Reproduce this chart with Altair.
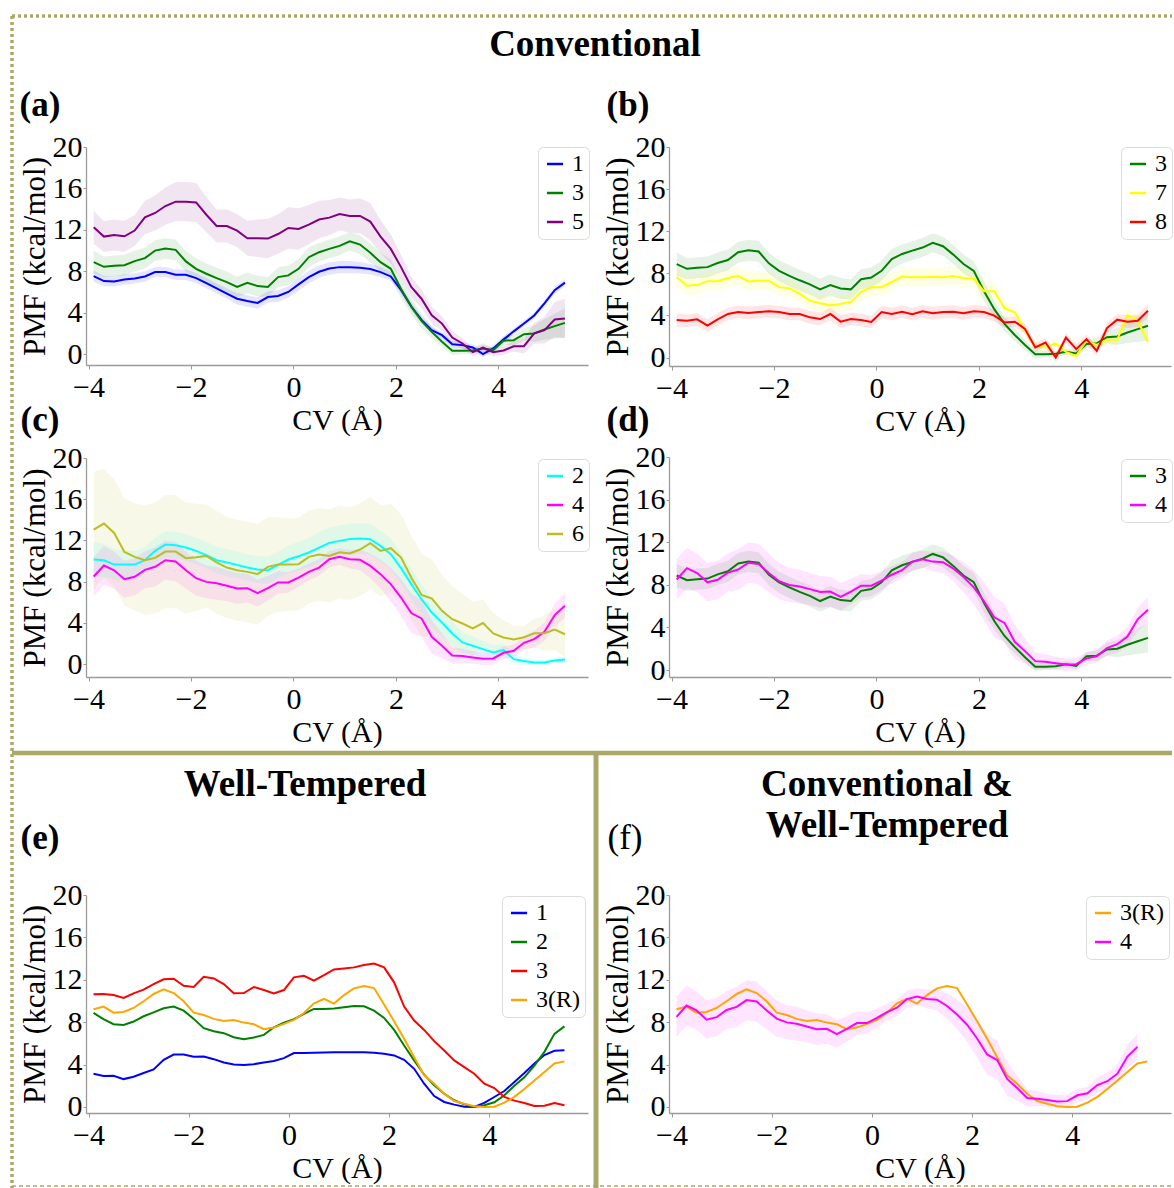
import altair as alt
import pandas as pd

FONT = "Liberation Serif"
FRAME = "#aaa768"
AXIS_GREY = "#9a9a9a"
W, H = 1174, 1188

# collective-variable grids (Å)
CV_CONV = [-3.9, -3.7, -3.5, -3.3, -3.1, -2.9, -2.7, -2.5, -2.3, -2.1,
           -1.9, -1.7, -1.5, -1.3, -1.1, -0.9, -0.7, -0.5, -0.3, -0.1,
           0.1, 0.3, 0.5, 0.7, 0.9, 1.1, 1.3, 1.5, 1.7, 1.9,
           2.1, 2.3, 2.5, 2.7, 2.9, 3.1, 3.3, 3.5, 3.7, 3.9,
           4.1, 4.3, 4.5, 4.7, 4.9, 5.1, 5.3]
CV_WT = CV_CONV + [5.5]

# conventional metadynamics PMFs (kcal/mol) and their uncertainty half-widths
PMF_C1 = [7.53, 7.05, 7.02, 7.21, 7.31, 7.5, 7.92, 7.92, 7.66, 7.66,
          7.34, 6.86, 6.35, 5.84, 5.35, 5.13, 4.94, 5.51, 5.61, 6.0,
          6.73, 7.44, 7.95, 8.27, 8.4, 8.4, 8.34, 8.21, 7.92, 7.5,
          6.2, 4.6, 3.3, 2.31, 1.83, 0.96, 0.87, 0.64, 0.0, 0.55,
          1.4, 2.2, 2.96, 3.73, 4.9, 6.17, 6.9]
ERR_C1 = [0.55, 0.5, 0.5, 0.5, 0.5, 0.5, 0.5, 0.5, 0.5, 0.5,
          0.5, 0.5, 0.5, 0.5, 0.55, 0.55, 0.55, 0.55, 0.55, 0.55,
          0.6, 0.6, 0.6, 0.6, 0.6, 0.6, 0.55, 0.5, 0.5, 0.45,
          0.4, 0.4, 0.35, 0.35, 0.3, 0.3, 0.3, 0.3, 0.3, 0.3,
          0.3, 0.3, 0.3, 0.3, 0.3, 0.35, 0.35]

PMF_C2 = [10.15, 10.08, 9.66, 9.66, 9.66, 10.08, 10.99, 11.6, 11.54, 11.31,
          10.99, 10.57, 10.08, 9.86, 9.63, 9.37, 9.18, 9.11, 9.63, 10.15,
          10.47, 10.83, 11.31, 11.76, 11.96, 12.15, 12.18, 12.12, 11.47, 10.67,
          9.31, 7.76, 6.3, 5.0, 4.04, 2.97, 2.1, 1.78, 1.45, 1.13,
          1.36, 0.48, 0.3, 0.15, 0.15, 0.35, 0.45]
ERR_C2 = [1.7, 1.6, 1.5, 1.4, 1.3, 1.3, 1.3, 1.3, 1.3, 1.3,
          1.3, 1.3, 1.3, 1.3, 1.3, 1.3, 1.3, 1.3, 1.3, 1.35,
          1.4, 1.4, 1.5, 1.5, 1.5, 1.5, 1.5, 1.5, 1.5, 1.5,
          1.5, 1.5, 1.5, 1.4, 1.3, 1.2, 1.0, 0.9, 0.8, 0.7,
          0.6, 0.5, 0.4, 0.3, 0.3, 0.3, 0.3]

PMF_C3 = [8.88, 8.43, 8.53, 8.59, 8.98, 9.27, 10.0, 10.2, 10.07, 8.95,
          8.24, 7.76, 7.34, 6.96, 6.48, 6.89, 6.57, 6.48, 7.44, 7.6,
          8.24, 9.36, 9.84, 10.16, 10.45, 10.9, 10.58, 9.78, 8.88, 8.24,
          6.3, 4.6, 3.2, 2.15, 1.2, 0.32, 0.32, 0.36, 0.55, 0.39,
          1.29, 1.35, 1.93, 2.0, 2.38, 2.7, 3.02]
ERR_C3 = [1.1, 1.0, 1.0, 1.0, 1.0, 1.0, 1.0, 1.0, 1.0, 1.0,
          1.0, 1.0, 1.0, 1.0, 1.0, 1.0, 1.0, 0.95, 0.95, 0.95,
          0.95, 0.95, 0.9, 0.9, 0.9, 0.9, 0.9, 0.9, 0.9, 0.9,
          0.9, 0.8, 0.7, 0.6, 0.5, 0.4, 0.3, 0.3, 0.3, 0.3,
          0.4, 0.5, 0.6, 0.8, 1.0, 1.2, 1.4]

PMF_C4 = [8.5, 9.57, 9.11, 8.24, 8.47, 9.15, 9.44, 10.08, 9.95, 9.11,
          8.34, 7.98, 7.85, 7.6, 7.34, 7.37, 6.88, 7.37, 7.92, 7.92,
          8.4, 8.95, 9.37, 10.18, 10.41, 10.18, 10.12, 9.53, 8.73, 7.76,
          6.46, 4.95, 4.43, 2.65, 1.78, 0.84, 0.78, 0.65, 0.52, 0.55,
          1.1, 1.29, 2.07, 2.43, 3.14, 4.76, 5.67]
ERR_C4 = [1.9, 1.9, 1.8, 1.8, 1.8, 1.8, 1.9, 1.9, 1.9, 1.8,
          1.7, 1.6, 1.6, 1.5, 1.5, 1.4, 1.3, 1.2, 1.1, 1.0,
          0.9, 0.8, 0.8, 0.8, 0.8, 0.9, 1.0, 1.2, 1.4, 1.6,
          1.8, 1.9, 1.8, 1.6, 1.2, 0.8, 0.7, 0.6, 0.6, 0.6,
          0.6, 0.6, 0.7, 0.8, 0.9, 1.1, 1.2]

PMF_C5 = [12.25, 11.35, 11.5, 11.38, 11.93, 13.2, 13.63, 14.3, 14.72, 14.72,
          14.65, 13.46, 12.37, 12.37, 11.93, 11.19, 11.19, 11.16, 11.6, 12.18,
          12.09, 12.5, 13.0, 13.18, 13.53, 13.34, 13.34, 12.8, 11.35, 10.16,
          8.4, 6.48, 5.35, 3.75, 2.95, 1.6, 1.03, 0.19, 0.64, 0.19,
          0.35, 0.75, 0.77, 2.0, 2.32, 3.34, 3.44]
ERR_C5 = [1.6, 1.5, 1.5, 1.5, 1.5, 1.6, 1.7, 1.8, 1.9, 1.9,
          1.9, 1.7, 1.6, 1.6, 1.6, 1.7, 1.8, 1.9, 1.9, 2.0,
          2.0, 1.9, 1.8, 1.7, 1.6, 1.6, 1.7, 1.8, 1.6, 1.4,
          1.2, 1.0, 0.9, 0.8, 0.7, 0.6, 0.5, 0.4, 0.4, 0.4,
          0.4, 0.5, 0.7, 1.0, 1.3, 1.7, 1.9]

PMF_C6 = [13.06, 13.64, 12.73, 10.89, 10.41, 10.08, 10.31, 10.92, 10.92, 10.28,
          10.37, 10.5, 9.86, 9.37, 9.11, 8.95, 8.73, 9.44, 9.66, 9.66,
          9.7, 10.41, 10.63, 10.5, 10.86, 10.73, 11.12, 11.73, 10.99, 11.25,
          10.34, 8.4, 6.72, 6.37, 5.17, 4.36, 3.94, 3.46, 3.98, 2.97,
          2.59, 2.39, 2.6, 3.0, 3.0, 3.35, 2.9]
ERR_C6 = [5.6, 5.3, 5.2, 5.2, 5.2, 5.3, 5.4, 5.5, 5.5, 5.4,
          5.2, 5.0, 5.0, 4.9, 4.9, 4.9, 4.9, 4.8, 4.6, 4.5,
          4.5, 4.5, 4.5, 4.5, 4.5, 4.5, 4.5, 4.5, 4.4, 4.3,
          4.2, 4.1, 4.0, 3.8, 3.5, 3.2, 2.9, 2.6, 2.3, 2.0,
          1.7, 1.3, 1.1, 1.4, 1.7, 2.0, 2.2]

PMF_C7 = [7.64, 6.82, 6.91, 7.26, 7.26, 7.55, 7.77, 7.23, 7.29, 7.29,
          6.69, 6.59, 6.05, 5.41, 5.16, 4.97, 5.1, 5.29, 6.24, 6.69,
          6.69, 7.2, 7.7, 7.64, 7.64, 7.68, 7.64, 7.74, 7.55, 7.48,
          6.31, 6.31, 4.68, 4.3, 2.55, 1.11, 0.96, 1.34, 0.54, 0.16,
          1.6, 1.2, 1.7, 1.7, 4.0, 3.5, 1.5]
ERR_C7 = [1.0, 0.9, 0.9, 0.9, 0.9, 0.9, 0.9, 0.9, 0.9, 0.9,
          0.85, 0.8, 0.8, 0.8, 0.8, 0.8, 0.8, 0.8, 0.85, 0.85,
          0.9, 0.9, 0.9, 0.9, 0.9, 0.9, 0.9, 0.9, 0.9, 0.9,
          0.9, 0.8, 0.7, 0.6, 0.5, 0.4, 0.4, 0.4, 0.4, 0.4,
          0.4, 0.4, 0.5, 0.5, 0.6, 0.6, 0.6]

PMF_C8 = [3.57, 3.5, 3.63, 3.03, 3.63, 4.14, 4.33, 4.24, 4.33, 4.39,
          4.33, 4.14, 4.14, 3.82, 3.66, 4.14, 3.41, 3.66, 3.57, 3.38,
          4.33, 4.14, 4.36, 4.11, 4.39, 4.2, 4.33, 4.36, 4.2, 4.39,
          4.33, 3.98, 3.34, 3.41, 2.71, 0.96, 1.43, 0.0, 1.91, 0.8,
          1.75, 0.64, 2.8, 3.6, 3.4, 3.5, 4.45]
ERR_C8 = [0.65, 0.6, 0.6, 0.6, 0.6, 0.6, 0.6, 0.6, 0.6, 0.6,
          0.6, 0.6, 0.6, 0.6, 0.6, 0.6, 0.6, 0.6, 0.6, 0.6,
          0.6, 0.6, 0.6, 0.6, 0.6, 0.6, 0.6, 0.6, 0.6, 0.6,
          0.6, 0.55, 0.5, 0.5, 0.5, 0.45, 0.45, 0.45, 0.45, 0.45,
          0.45, 0.45, 0.5, 0.55, 0.6, 0.6, 0.65]

# well-tempered metadynamics PMFs (kcal/mol)
PMF_W1 = [3.13, 2.92, 2.95, 2.63, 2.85, 3.2, 3.54, 4.45, 4.95, 4.95,
          4.73, 4.76, 4.51, 4.2, 4.01, 3.95, 4.04, 4.2, 4.33, 4.61,
          5.08, 5.08, 5.11, 5.14, 5.17, 5.17, 5.17, 5.17, 5.11, 5.02,
          4.86, 4.45, 3.6, 2.19, 1.03, 0.47, 0.22, 0.03, 0.0, 0.38,
          0.94, 1.5, 2.35, 3.2, 4.1, 4.9, 5.3, 5.35]
PMF_W2 = [8.87, 8.28, 7.81, 7.74, 8.06, 8.56, 8.93, 9.31, 9.47, 9.09,
          8.31, 7.43, 7.15, 6.96, 6.58, 6.39, 6.55, 6.8, 7.52, 7.96,
          8.28, 8.78, 9.25, 9.25, 9.28, 9.4, 9.53, 9.5, 9.09, 8.4,
          7.27, 5.8, 4.39, 3.04, 2.04, 1.25, 0.63, 0.25, 0.0, 0.16,
          0.44, 1.1, 2.0, 2.8, 3.9, 5.2, 6.9, 7.6]
PMF_W3 = [10.63, 10.66, 10.56, 10.28, 10.72, 11.07, 11.6, 12.04, 12.1, 11.44,
          11.32, 12.29, 12.13, 11.6, 10.72, 10.75, 11.32, 11.03, 10.72, 11.03,
          12.23, 12.38, 11.91, 12.45, 12.98, 13.07, 13.17, 13.39, 13.54, 13.17,
          11.76, 9.47, 8.15, 7.27, 6.21, 5.33, 4.39, 3.76, 3.13, 2.19,
          1.79, 0.94, 0.6, 0.38, 0.09, 0.12, 0.38, 0.16]
PMF_W3R = [9.22, 9.47, 8.9, 8.97, 9.34, 9.97, 10.66, 11.1, 10.75, 9.97,
           8.9, 8.68, 8.31, 8.12, 8.21, 7.96, 7.81, 7.34, 7.49, 7.84,
           8.21, 8.87, 9.78, 10.19, 9.75, 10.56, 11.19, 11.41, 11.22, 9.66,
           8.09, 6.43, 4.7, 2.98, 2.19, 1.25, 0.56, 0.31, 0.06, 0.0,
           0.03, 0.4, 0.95, 1.7, 2.5, 3.3, 4.1, 4.3]

BLUE, GREEN, PURPLE = "#0000ff", "#008000", "#800080"
YELLOW, RED, CYAN = "#ffff00", "#ff0000", "#00ffff"
MAGENTA, OLIVE, ORANGE = "#ff00ff", "#bcbd22", "#ffa500"

X_TICKS = [-4, -2, 0, 2, 4]
Y_TICKS = [0, 4, 8, 12, 16, 20]

# panel layout: pixel extents of each plot area and its legend corner
PANELS = [
    dict(xr=(86, 588), yr=(365, 147), xdom=(-4.05, 5.75), ydom=(-1.05, 20), leg=(538, 147),
         series=[("1", BLUE, CV_CONV, PMF_C1, ERR_C1),
                 ("3", GREEN, CV_CONV, PMF_C3, ERR_C3),
                 ("5", PURPLE, CV_CONV, PMF_C5, ERR_C5)]),
    dict(xr=(669, 1171), yr=(366, 147), xdom=(-4.05, 5.75), ydom=(-0.8, 20), leg=(1121, 147),
         series=[("3", GREEN, CV_CONV, PMF_C3, ERR_C3),
                 ("7", YELLOW, CV_CONV, PMF_C7, ERR_C7),
                 ("8", RED, CV_CONV, PMF_C8, ERR_C8)]),
    dict(xr=(86, 588), yr=(677, 458), xdom=(-4.05, 5.75), ydom=(-1.25, 20), leg=(538, 459),
         series=[("2", CYAN, CV_CONV, PMF_C2, ERR_C2),
                 ("4", MAGENTA, CV_CONV, PMF_C4, ERR_C4),
                 ("6", OLIVE, CV_CONV, PMF_C6, ERR_C6)]),
    dict(xr=(669, 1171), yr=(677, 457), xdom=(-4.05, 5.75), ydom=(-0.65, 20), leg=(1121, 459),
         series=[("3", GREEN, CV_CONV, PMF_C3, ERR_C3),
                 ("4", MAGENTA, CV_CONV, PMF_C4, ERR_C4)]),
    dict(xr=(86, 588), yr=(1113, 895), xdom=(-4.05, 5.97), ydom=(-0.57, 20), leg=(502, 896),
         series=[("1", BLUE, CV_WT, PMF_W1, None),
                 ("2", GREEN, CV_WT, PMF_W2, None),
                 ("3", RED, CV_WT, PMF_W3, None),
                 ("3(R)", ORANGE, CV_WT, PMF_W3R, None)]),
    dict(xr=(669, 1171), yr=(1113, 895), xdom=(-4.05, 5.97), ydom=(-0.57, 20), leg=(1086, 896),
         series=[("3(R)", ORANGE, CV_WT, PMF_W3R, None),
                 ("4", MAGENTA, CV_CONV, PMF_C4, ERR_C4)]),
]

PANEL_TAGS = [("(a)", 40, 105, "bold"), ("(b)", 628, 105, "bold"),
              ("(c)", 40, 420, "bold"), ("(d)", 628, 420, "bold"),
              ("(e)", 40, 838, "bold"), ("(f)", 625, 838, "normal")]
HEADINGS = [("Conventional", 595, 45), ("Well-Tempered", 305, 785),
            ("Conventional &", 887, 785), ("Well-Tempered", 887, 826)]


def build_panel(p):
    labels = [s[0] for s in p["series"]]
    colors = [s[1] for s in p["series"]]

    xs = alt.Scale(domain=list(p["xdom"]), range=list(p["xr"]), nice=False, zero=False)
    ys = alt.Scale(domain=list(p["ydom"]), range=list(p["yr"]), nice=False, zero=False)
    x_axis = alt.Axis(orient="bottom", offset=p["yr"][0] - H, values=X_TICKS, grid=False,
                      tickSize=4, tickColor=AXIS_GREY, domainColor=AXIS_GREY, domainWidth=1.3,
                      labelFont=FONT, labelFontSize=30, labelColor="black", labelPadding=3,
                      labelFlush=False, labelOverlap=False,
                      title="CV (Å)", titleFont=FONT, titleFontSize=30, titleFontWeight="normal",
                      titleColor="black", titleX=(p["xr"][0] + p["xr"][1]) / 2, titleY=55,
                      titleBaseline="middle", titleAlign="center")
    y_axis = alt.Axis(orient="left", offset=-p["xr"][0], values=Y_TICKS, grid=False,
                      tickSize=3, tickColor=AXIS_GREY, domainColor=AXIS_GREY, domainWidth=1.3,
                      labelFont=FONT, labelFontSize=30, labelColor="black", labelPadding=1,
                      labelFlush=False, labelOverlap=False,
                      title="PMF (kcal/mol)", titleFont=FONT, titleFontSize=31,
                      titleFontWeight="normal", titleColor="black",
                      titleX=-51, titleY=(p["yr"][0] + p["yr"][1]) / 2, titleAngle=-90,
                      titleBaseline="middle", titleAlign="center")

    layers = []
    # shaded uncertainty bands, one constant-colour layer per run
    for name, color, cv, vals, err in p["series"]:
        if err is None:
            continue
        band = pd.DataFrame({"cv": cv,
                             "lo": [v - e for v, e in zip(vals, err)],
                             "hi": [v + e for v, e in zip(vals, err)]})
        layers.append(
            alt.Chart(band).mark_area(color=color, opacity=0.1).encode(
                x=alt.X("cv:Q", scale=xs, axis=x_axis),
                y=alt.Y("lo:Q", scale=ys, axis=y_axis),
                y2="hi:Q",
            )
        )

    line_rows = []
    for name, _, cv, vals, _ in p["series"]:
        for x, v in zip(cv, vals):
            line_rows.append({"cv": x, "pmf": v, "run": name})
    layers.append(
        alt.Chart(pd.DataFrame(line_rows)).mark_line(strokeWidth=2).encode(
            x=alt.X("cv:Q", scale=xs, axis=x_axis),
            y=alt.Y("pmf:Q", scale=ys, axis=y_axis),
            color=alt.Color("run:N", scale=alt.Scale(domain=labels, range=colors),
                            legend=alt.Legend(orient="none", legendX=p["leg"][0], legendY=p["leg"][1],
                                              title=None, symbolType="stroke", symbolStrokeWidth=2.5,
                                              symbolSize=260, labelFont=FONT, labelFontSize=24,
                                              labelColor="black", labelOffset=5, padding=5,
                                              rowPadding=5, strokeColor="#dcdcdc",
                                              fillColor="white", cornerRadius=5)),
        )
    )
    return alt.layer(*layers)


def hrule(x1, x2, y, width, dash):
    return alt.Chart(pd.DataFrame({"d": [0]})).mark_rule(
        color=FRAME, strokeWidth=width, strokeDash=dash).encode(
        x=alt.value(x1), x2=alt.value(x2), y=alt.value(y))


def vrule(x, y1, y2, width, dash):
    return alt.Chart(pd.DataFrame({"d": [0]})).mark_rule(
        color=FRAME, strokeWidth=width, strokeDash=dash).encode(
        x=alt.value(x), y=alt.value(y1), y2=alt.value(y2))


def label(text, x, y, size, weight):
    return alt.Chart(pd.DataFrame({"t": [text]})).mark_text(
        font=FONT, fontSize=size, fontWeight=weight, align="center", baseline="middle",
        color="black").encode(x=alt.value(x), y=alt.value(y), text="t:N")


frames = [
    hrule(12, 1172, 16, 3.5, [3, 3]),
    vrule(12, 16, 1188, 3.5, [3, 3]),
    hrule(12, 1172, 753, 4.5, [1, 0]),
    vrule(596, 753, 1188, 5, [1, 0]),
    hrule(12, 1172, 1186, 1.5, [4, 3]),
]
texts = [label(t, x, y, 37, "bold") for t, x, y in HEADINGS]
texts += [label(t, x, y, 35, w) for t, x, y, w in PANEL_TAGS]

chart = alt.layer(*frames, *[build_panel(p) for p in PANELS], *texts).resolve_scale(
    x="independent", y="independent", color="independent"
).properties(
    width=W, height=H, padding=0, autosize=alt.AutoSizeParams(type="none"),
    background="white"
).configure_view(strokeWidth=0)

chart.save("out.html", embed_options={"renderer": "svg", "actions": False})
